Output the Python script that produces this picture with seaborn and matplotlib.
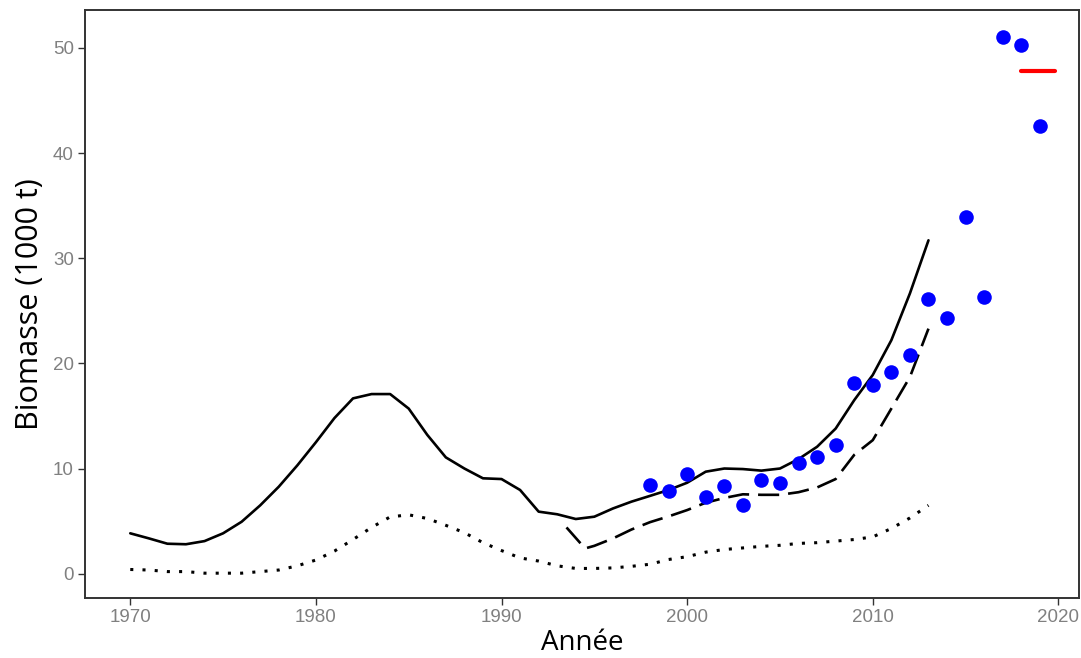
import numpy as np
import pandas as pd
import matplotlib
matplotlib.use("Agg")
import matplotlib.pyplot as plt
import seaborn as sns

# ---- data ----
model_years = list(range(1970, 2014))
biomass_total = [3.84, 3.36, 2.85, 2.8, 3.1, 3.84, 4.94, 6.5, 8.27, 10.3,
                 12.5, 14.8, 16.67, 17.08, 17.08, 15.7, 13.2, 11.06, 10.0, 9.07,
                 9.0, 7.96, 5.9, 5.65, 5.2, 5.42, 6.2, 6.85, 7.4, 7.96,
                 8.65, 9.7, 10.0, 9.95, 9.8, 10.0, 10.9, 12.07, 13.8, 16.5,
                 18.9, 22.2, 26.65, 31.7]
biomass_low = [0.4, 0.35, 0.2, 0.2, 0.05, 0.05, 0.05, 0.2, 0.35, 0.75,
               1.3, 2.15, 3.25, 4.4, 5.4, 5.6, 5.25, 4.6, 3.9, 2.95,
               2.2, 1.5, 1.2, 0.75, 0.5, 0.5, 0.55, 0.7, 0.9, 1.35,
               1.62, 2.05, 2.3, 2.45, 2.6, 2.7, 2.88, 2.95, 3.1, 3.25,
               3.5, 4.3, 5.3, 6.5]
alt_years = [1993.5, 1994.5, 1995, 1996, 1997, 1998, 1999, 2000, 2001, 2002,
             2003, 2004, 2005, 2006, 2007, 2008, 2009, 2010, 2011, 2012, 2013]
biomass_alt = [4.4, 2.4, 2.65, 3.35, 4.2, 4.9, 5.45, 6.05, 6.75, 7.2,
               7.55, 7.5, 7.5, 7.75, 8.2, 9.0, 11.3, 12.7, 15.7, 18.7, 23.3]
survey_years = list(range(1998, 2020))
survey_values = [8.43, 7.9, 9.45, 7.3, 8.34, 6.53, 8.9, 8.6, 10.5, 11.06,
                 12.23, 18.16, 17.9, 19.2, 20.8, 26.1, 24.3, 33.9, 26.3, 51.05,
                 50.3, 42.6]
mean_years = [2018.0, 2019.8]
mean_values = [47.8, 47.8]

x_ticks = [1970, 1980, 1990, 2000, 2010, 2020]
y_ticks = [0, 10, 20, 30, 40, 50]

# ---- style ----
sns.set_style("white")
plt.rcParams['font.family'] = ['Liberation Sans', 'DejaVu Sans']

fig = plt.figure(figsize=(10.81, 6.58), dpi=100)
ax = fig.add_axes([0.0786, 0.0912, 0.9194, 0.8936])

df_total = pd.DataFrame({"Année": model_years, "Biomasse": biomass_total})
df_low = pd.DataFrame({"Année": model_years, "Biomasse": biomass_low})
df_alt = pd.DataFrame({"Année": alt_years, "Biomasse": biomass_alt})
df_survey = pd.DataFrame({"Année": survey_years, "Biomasse": survey_values})
df_mean = pd.DataFrame({"Année": mean_years, "Biomasse": mean_values})

sns.lineplot(data=df_total, x="Année", y="Biomasse", ax=ax, color="black",
             linewidth=1.9, estimator=None, sort=False)
l_alt = sns.lineplot(data=df_alt, x="Année", y="Biomasse", ax=ax, color="black",
                     linewidth=1.9, estimator=None, sort=False).lines[-1]
l_alt.set_dashes((8.0, 3.4))
l_low = sns.lineplot(data=df_low, x="Année", y="Biomasse", ax=ax, color="black",
                     linewidth=2.2, estimator=None, sort=False).lines[-1]
l_low.set_dashes((1, 3.0))
sns.scatterplot(data=df_survey, x="Année", y="Biomasse", ax=ax, color="#0000FF",
                s=110, linewidth=0, zorder=5)
sns.lineplot(data=df_mean, x="Année", y="Biomasse", ax=ax, color="#FF0000",
             linewidth=3.0, estimator=None, sort=False)

ax.set_xlim(1967.56, 2021.1)
ax.set_ylim(-2.31, 53.6)
ax.set_xticks(x_ticks)
ax.set_yticks(y_ticks)
ax.tick_params(axis="both", which="major", length=5, width=1.0, color="#333333",
               labelcolor="#808080", labelsize=13.5, pad=3, left=True, bottom=True)
for sp in ax.spines.values():
    sp.set_visible(True)
    sp.set_color("#333333")
    sp.set_linewidth(1.4)

ax.set_xlabel("Année", fontsize=20, family=["Open Sans", "DejaVu Sans"], color="black", labelpad=2)
ax.set_ylabel("Biomasse (1000 t)", fontsize=22, family=["Open Sans", "DejaVu Sans"], color="black", labelpad=6)

fig.savefig("out.png", dpi=100)
